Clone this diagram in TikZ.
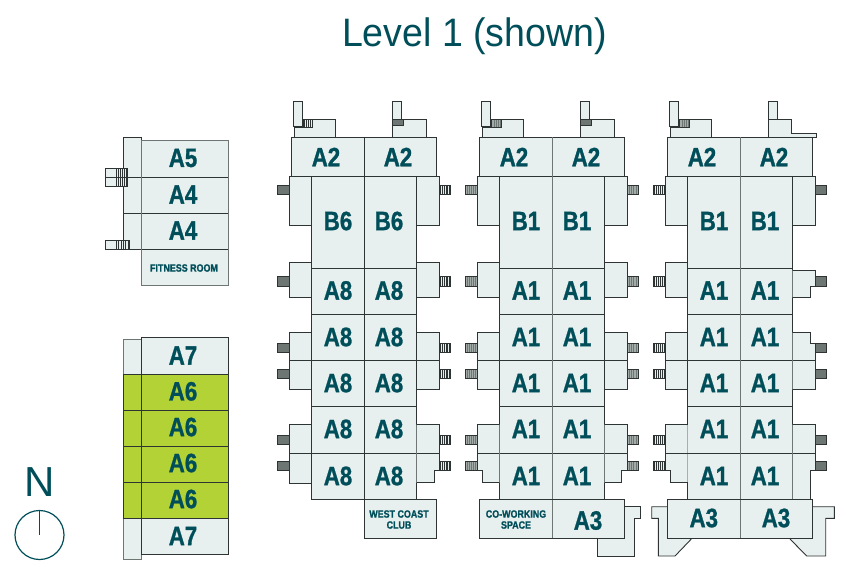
\documentclass[tikz,border=0pt]{standalone}
\usepackage{fontspec}
\setmainfont{Liberation Sans}
\newfontfamily\cellfont[FakeStretch=0.84,BoldFeatures={FakeBold=1.1}]{Liberation Sans}
\newfontfamily\titlefont[FakeStretch=0.945]{Liberation Sans}
\definecolor{teal}{HTML}{004E59}
\definecolor{unit}{HTML}{E8F0EF}
\definecolor{lime}{HTML}{B2D235}
\definecolor{wall}{HTML}{2E3433}
\definecolor{wallgrey}{HTML}{6E7674}
\definecolor{barpale}{HTML}{A3ABA9}
\tikzset{wing/.style={draw=wall, fill=unit, line width=0.9pt},
greywing/.style={draw=wallgrey, fill=unit, line width=1pt},
sold/.style={draw=wall, fill=lime, line width=0.9pt},
unitlabel/.style={text=teal, inner sep=0pt, font=\cellfont\bfseries\fontsize{26.5}{26.5}\selectfont},
smalllabel/.style={text=teal, inner sep=0pt, align=center, font=\cellfont\bfseries\fontsize{10.6}{11}\selectfont}}
% back colour, bar colour, first bar, last bar, then the box
\newcommand{\balcony}[8]{
    \fill[#1] (#5,#6) rectangle (#7,#8);
    \foreach \k in {0,...,5}
    \draw[#2, line width=0.7pt] ({#3+\k*(#4-#3)/5},#6) -- ({#3+\k*(#4-#3)/5},#8);
    \draw[wall, line width=0.8pt] (#5,#6) rectangle (#7,#8);
}

\begin{document}
\begin{tikzpicture}[x=1pt,y=-1pt]
    \useasboundingbox (0,0) rectangle (846,566);

    \node[text=teal, inner sep=0pt, anchor=base, font=\titlefont\fontsize{39.7}{39.7}\selectfont] (title) at (474.5,46.7) {Level 1 (shown)};

    % north mark
    \node[text=teal, inner sep=0pt, anchor=base, font=\fontsize{42}{42}\selectfont] (north) at (39.5,496.7) {N};
    \coordinate (dial) at (39.5,535);
    \coordinate (dialtop) at (39.5,511);
    \coordinate (dialend) at (39.5,534.5);
    \draw[teal, line width=1.2pt] (dial) circle (24.5);
    \draw[teal, line width=1.2pt] (dialtop) -- (dialend);

    % upper left block
    \draw[wing] (123.5,137.3) rectangle (141.7,249.3);
    \draw[wing] (123.5,177.3) -- (141.7,177.3);
    \draw[wing] (123.5,213.3) -- (141.7,213.3);
    \draw[wing] (105,168.3) rectangle (116,186.3);
    \balcony{unit}{wall}{116.5}{126}{116}{168.3}{127}{186.3}
    \draw[wing] (105,177.3) -- (127,177.3);
    \draw[wing] (105,240) rectangle (116,249.3);
    \balcony{unit}{wall}{116.5}{128}{116}{240}{129}{249.3}
    \draw[greywing] (141.7,140.7) rectangle (228,285.7);
    \foreach \y in {177.3,213.3,249.3}
    \draw[wing] (141.7,\y) -- (228,\y);
    \node[unitlabel] (a5) at (183,158) {A5};
    \node[unitlabel] (a4a) at (183,194.5) {A4};
    \node[unitlabel] (a4b) at (183,230.5) {A4};
    \node[smalllabel] (fitness) at (184,268) {FITNESS ROOM};

    % lower left block
    \draw[greywing] (123.5,339) rectangle (141.7,559);
    \fill[lime] (123.5,374.3) rectangle (141.7,518.3);
    \draw[sold] (123.5,374.3) rectangle (141.7,518.3);
    \draw[wing] (141.7,337.3) rectangle (228,554.7);
    \draw[sold] (141.7,374.3) rectangle (228,518.3);
    \foreach \y in {410.3,446.3,482.3} {
    \draw[wing] (123.5,\y) -- (228,\y);
    }
    \node[unitlabel] (a7a) at (183,355.5) {A7};
    \node[unitlabel] (a6a) at (183,391.3) {A6};
    \node[unitlabel] (a6b) at (183,427) {A6};
    \node[unitlabel] (a6c) at (183,463) {A6};
    \node[unitlabel] (a6d) at (183,499) {A6};
    \node[unitlabel] (a7b) at (183,536) {A7};

    % the three towers
    \foreach \dx/\rowlab/\toplab/\lback/\lbar/\rback/\rbar/\mid in {0/A8/B6/wallgrey/wallgrey/unit/wall/wall,188/A1/B1/wallgrey/barpale/wallgrey/barpale/wallgrey,376/A1/B1/unit/wall/wallgrey/wallgrey/wallgrey} {
    \begin{scope}[xshift=\dx pt]
    \foreach \y in {185,276.7,343.3,369,435.3,461.3} {
    \balcony{\lback}{\lbar}{278.5}{288}{277.3}{\y}{289}{\y+9.4}
    \balcony{\rback}{\rbar}{440.5}{449.5}{439.3}{\y}{450.7}{\y+9.4}
    }
    % towers on the roof edge
    \draw[wing] (293.3,101.3) rectangle (302.3,126.7);
    \draw[wing] (294.3,137.3) |- (302.3,127.3) |- (335.7,119.3) -- (335.7,137.3);
    \draw[wing] (392.3,101.3) rectangle (401.3,119.3);
    % left and right wings
    \draw[wing] (289,176.7) rectangle (311.7,225.7);
    \draw[wing] (289,262.3) rectangle (311.7,297.3);
    \draw[wing] (289,332.7) rectangle (311.7,389.3);
    \draw[wing] (289,360.7) -- (311.7,360.7);
    \draw[wing] (416.7,176.7) rectangle (439.3,225.7);
    % main column
    \draw[wing] (311.7,176.7) rectangle (416.7,499.5);
    \foreach \y in {268.5,314.5,360.5,406.5,453}
    \draw[wing] (311.7,\y) -- (416.7,\y);
    \draw[wing] (291.3,137.3) rectangle (436.7,176.7);
    \draw[draw=\mid, line width=1pt] (364.3,137.3) -- (364.3,499.5);
    \node[unitlabel] (top\dx a) at (326,157) {A2};
    \node[unitlabel] (top\dx b) at (398,157) {A2};
    \node[unitlabel] (big\dx a) at (338,221) {\toplab};
    \node[unitlabel] (big\dx b) at (389,221) {\toplab};
    \foreach \y in {290.5,337,383,429,476} {
    \node[unitlabel] (row\dx-\y a) at (338,\y) {\rowlab};
    \node[unitlabel] (row\dx-\y b) at (389,\y) {\rowlab};
    }
    \end{scope}
    }

    % small hatches beside the roof towers
    \balcony{unit}{wall}{303}{312}{302.3}{119.3}{312.7}{127.3}
    \draw[wing] (392.3,137.3) |- (426,119.3) -- (426,137.3);
    \balcony{wallgrey}{wallgrey}{393}{402}{392.3}{119.3}{403}{125}
    \balcony{wallgrey}{barpale}{492}{501}{491.3}{119.3}{501.7}{127.3}
    \draw[wing] (580.3,137.3) |- (614,119.3) -- (614,137.3);
    \balcony{wallgrey}{wallgrey}{581}{590}{580.3}{119.3}{591}{125}
    \balcony{wallgrey}{barpale}{680}{689}{679.3}{119.3}{689.7}{127.3}
    \draw[wing] (768.3,137.3) |- (791.3,119.3) |- (816,133.3) -- (816,137.3) -- cycle;

    % tower 1 side wings
    \draw[wing] (416.7,262.3) rectangle (439.3,297.3);
    \draw[wing] (416.7,332.7) rectangle (439.3,389.3);
    \draw[wing] (416.7,360.7) -- (439.3,360.7);
    \draw[wing] (289,424.7) rectangle (311.7,483.3);
    \draw[wing] (289,453) -- (311.7,453);
    \draw[wing] (416.7,424.7) -| (439.3,470.7) -| (434,482.7) -- (416.7,482.7);
    \draw[wing] (416.7,453) -- (439.3,453);
    \draw[wing] (364.3,499.5) rectangle (436.7,538);
    \node[smalllabel] (westcoast) at (399,519.5) {WEST COAST\\CLUB};

    % tower 2 side wings
    \draw[wing] (604.7,262.3) rectangle (627.3,297.3);
    \draw[wing] (604.7,332.7) rectangle (627.3,389.3);
    \draw[wing] (604.7,360.7) -- (627.3,360.7);
    \draw[wing] (499.3,424.7) -| (477,470.7) -| (482.7,482.7) -- (499.3,482.7);
    \draw[wing] (477,453) -- (499.3,453);
    \draw[wing] (604.7,424.7) -| (627.3,470.7) -| (621.7,482.7) -- (604.7,482.7);
    \draw[wing] (604.7,453) -- (627.3,453);
    \draw[wing] (624.3,506.7) -| (640,518.3) -| (634,556) -| (597.3,538);
    \draw[wing] (479.3,499.5) rectangle (624.3,538);
    \draw[draw=wallgrey, line width=1pt] (552,499.5) -- (552,538);
    \node[smalllabel] (coworking) at (516,519.5) {CO-WORKING\\SPACE};
    \node[unitlabel] (a3a) at (588,520.5) {A3};

    % tower 3 side wings
    \draw[wing] (792.7,270.3) -| (815,286.7) -| (810.7,297.3) -- (792.7,297.3);
    \draw[wing] (792.7,332.7) -| (810.3,343.3) -| (815,389.3) -- (792.7,389.3);
    \draw[wing] (792.7,360.7) -- (815,360.7);
    \draw[wing] (687.7,424.7) -| (665,470.7) -| (670.7,482.7) -- (687.7,482.7);
    \draw[wing] (665,453) -- (687.7,453);
    \draw[wing] (792.7,424.7) -| (815,470.7) -| (810.7,499.5) -- (792.7,499.5);
    \draw[wing] (792.7,453) -- (815,453);
    \draw[wing] (667.3,506.7) -| (651.7,518.3) -| (658.3,556) -- (675,556) -- (691.3,539);
    \draw[wing] (812.7,506.7) -| (834.3,518.3) -| (825.7,556) -- (806.7,556) -- (790,539);
    \draw[wing] (667.3,499.5) rectangle (812.7,538);
    \draw[draw=wallgrey, line width=1pt] (740,499.5) -- (740,538);
    \node[unitlabel] (a3b) at (703.8,518) {A3};
    \node[unitlabel] (a3c) at (776,518) {A3};

\end{tikzpicture}
\end{document}
